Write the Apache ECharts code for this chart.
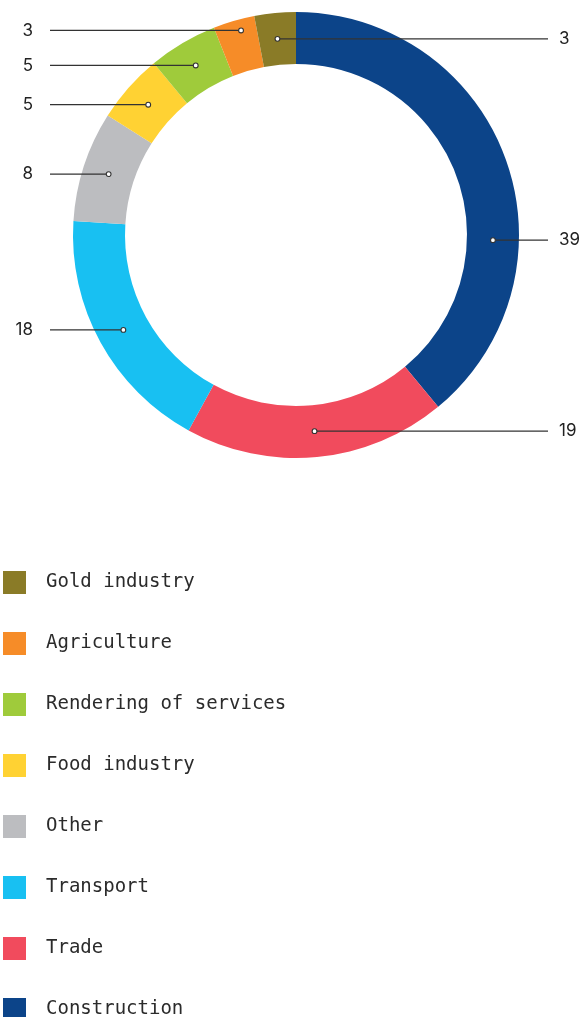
<!DOCTYPE html>
<html><head><meta charset="utf-8">
<script src="https://cdn.jsdelivr.net/npm/echarts@6/dist/echarts.min.js"></script>
<style>html,body{margin:0;padding:0;background:#fff}#c{width:581px;height:1017px}</style>
</head><body><div id="c"></div>
<script>
const categories = ['Construction','Trade','Transport','Other','Food industry','Rendering of services','Agriculture','Gold industry'];
const values = [39, 19, 18, 8, 5, 5, 3, 3];
const colors = ['#0c4489','#f14b5d','#18c0f2','#bcbdc0','#ffd233','#9fcb3b','#f68c28','#8a7b27'];
const legendOrder = categories.slice().reverse();

// layout geometry (pixels)
const CX = 296, CY = 235, R0 = 171, R1 = 223, RM = (R0 + R1) / 2;
const LEFT_LABEL_X = 33, LEFT_LINE_X = 50, RIGHT_LABEL_X = 559, RIGHT_LINE_X = 548;
const angleOverride = { 'Construction': 91.5 };
const sideOverride = { 'Gold industry': 'right' };

const total = values.reduce((a, b) => a + b, 0);
let acc = 0;
const geom = values.map((v, i) => {
  let mid = (acc + v / 2) / total * 360; acc += v;
  if (angleOverride[categories[i]] != null) mid = angleOverride[categories[i]];
  const a = mid * Math.PI / 180;
  const x = CX + RM * Math.sin(a), y = CY - RM * Math.cos(a);
  const side = sideOverride[categories[i]] || (Math.sin(a) >= 0 ? 'right' : 'left');
  return { x, y, side };
});
['left', 'right'].forEach(s => {
  const items = geom.filter(g => g.side === s).sort((a, b) => b.y - a.y);
  for (let k = 1; k < items.length; k++) {
    if (items[k - 1].y - items[k].y < 35) items[k].y = items[k - 1].y - 35;
  }
});

const chart = echarts.init(document.getElementById('c'), null, { renderer: 'canvas' });
chart.setOption({
  animation: false,
  backgroundColor: '#fff',
  legend: {
    orient: 'vertical', left: 3, top: 571, padding: 0, height: 470,
    itemWidth: 23, itemHeight: 23, itemGap: 38, icon: 'rect',
    selectedMode: false,
    data: legendOrder,
    textStyle: { fontFamily: 'DejaVu Sans Mono', fontSize: 19, color: '#2b2b2b', padding: [0, 0, 0, 15] }
  },
  series: [
    {
      type: 'pie', name: 'Sectors',
      center: [CX, CY], radius: [R0, R1],
      startAngle: 90, clockwise: true,
      avoidLabelOverlap: false,
      silent: true,
      itemStyle: { borderWidth: 0 },
      data: categories.map((n, i) => ({ name: n, value: values[i], itemStyle: { color: colors[i] } })),
      label: { show: true, position: 'outside', formatter: '{c}', fontFamily: 'Inter', fontSize: 17, color: '#222' },
      labelLine: { show: false },
      labelLayout: function (p) {
        const g = geom[p.dataIndex];
        if (g.side === 'left') {
          return { x: LEFT_LABEL_X, y: g.y, align: 'right', verticalAlign: 'middle' };
        }
        return { x: RIGHT_LABEL_X, y: g.y, align: 'left', verticalAlign: 'middle' };
      }
    },
    {
      type: 'custom', coordinateSystem: 'none', silent: true, z: 10,
      data: values,
      renderItem: function (params) {
        const g = geom[params.dataIndex];
        const x2 = g.side === 'left' ? LEFT_LINE_X : RIGHT_LINE_X;
        return { type: 'group', children: [
          { type: 'line', shape: { x1: g.x, y1: g.y, x2: x2, y2: g.y },
            style: { stroke: '#333', lineWidth: 1.2 } },
          { type: 'circle', shape: { cx: g.x, cy: g.y, r: 2.4 },
            style: { fill: '#fff', stroke: '#333', lineWidth: 1.1 } }
        ] };
      }
    }
  ]
});
</script></body></html>
